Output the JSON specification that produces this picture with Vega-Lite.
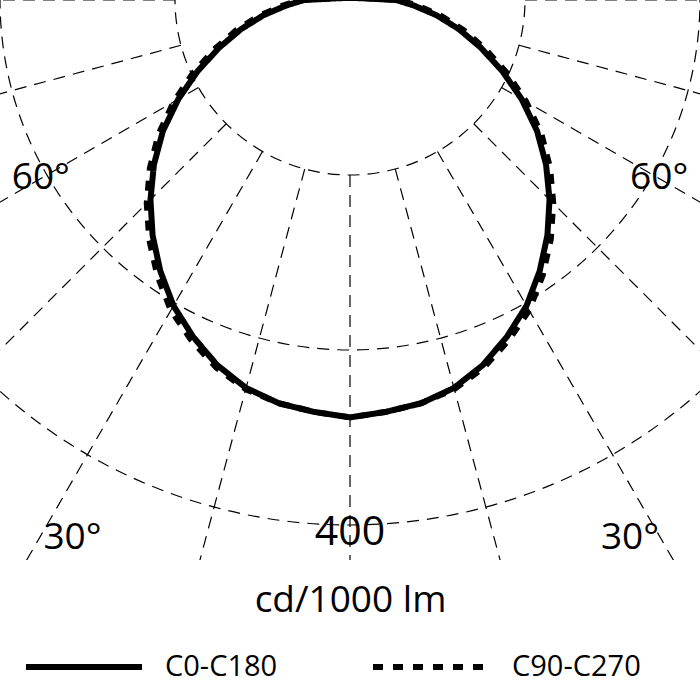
{
  "$schema": "https://vega.github.io/schema/vega-lite/v6.json",
  "width": 700,
  "height": 560,
  "padding": {"left": 0, "top": 0, "right": 0, "bottom": 140},
  "autosize": {"type": "none"},
  "background": "white",
  "config": {"view": {"stroke": null}, "font": "Open Sans"},
  "datasets": {
    "rings": [{"ring": 133.333}, {"ring": 266.667}, {"ring": 400}],
    "radials": [
      {"angle": -90}, {"angle": -75}, {"angle": -60}, {"angle": -45}, {"angle": -30}, {"angle": -15},
      {"angle": 0}, {"angle": 15}, {"angle": 30}, {"angle": 45}, {"angle": 60}, {"angle": 75}, {"angle": 90}
    ],
    "curves": [
      {"plane": "C0-C180", "gamma": -180, "cd": 1.5},
      {"plane": "C0-C180", "gamma": -120, "cd": 3},
      {"plane": "C0-C180", "gamma": -100, "cd": 8},
      {"plane": "C0-C180", "gamma": -90, "cd": 35},
      {"plane": "C0-C180", "gamma": -85, "cd": 49},
      {"plane": "C0-C180", "gamma": -80, "cd": 67},
      {"plane": "C0-C180", "gamma": -75, "cd": 86},
      {"plane": "C0-C180", "gamma": -70, "cd": 106},
      {"plane": "C0-C180", "gamma": -65, "cd": 128},
      {"plane": "C0-C180", "gamma": -60, "cd": 151},
      {"plane": "C0-C180", "gamma": -55, "cd": 174},
      {"plane": "C0-C180", "gamma": -50, "cd": 195},
      {"plane": "C0-C180", "gamma": -45, "cd": 215},
      {"plane": "C0-C180", "gamma": -40, "cd": 234},
      {"plane": "C0-C180", "gamma": -35, "cd": 252},
      {"plane": "C0-C180", "gamma": -30, "cd": 269},
      {"plane": "C0-C180", "gamma": -25, "cd": 283},
      {"plane": "C0-C180", "gamma": -20, "cd": 296},
      {"plane": "C0-C180", "gamma": -15, "cd": 306},
      {"plane": "C0-C180", "gamma": -10, "cd": 312},
      {"plane": "C0-C180", "gamma": -5, "cd": 315},
      {"plane": "C0-C180", "gamma": 0, "cd": 318},
      {"plane": "C0-C180", "gamma": 5, "cd": 315},
      {"plane": "C0-C180", "gamma": 10, "cd": 312},
      {"plane": "C0-C180", "gamma": 15, "cd": 306},
      {"plane": "C0-C180", "gamma": 20, "cd": 296},
      {"plane": "C0-C180", "gamma": 25, "cd": 283},
      {"plane": "C0-C180", "gamma": 30, "cd": 269},
      {"plane": "C0-C180", "gamma": 35, "cd": 252},
      {"plane": "C0-C180", "gamma": 40, "cd": 234},
      {"plane": "C0-C180", "gamma": 45, "cd": 215},
      {"plane": "C0-C180", "gamma": 50, "cd": 195},
      {"plane": "C0-C180", "gamma": 55, "cd": 174},
      {"plane": "C0-C180", "gamma": 60, "cd": 151},
      {"plane": "C0-C180", "gamma": 65, "cd": 128},
      {"plane": "C0-C180", "gamma": 70, "cd": 106},
      {"plane": "C0-C180", "gamma": 75, "cd": 86},
      {"plane": "C0-C180", "gamma": 80, "cd": 67},
      {"plane": "C0-C180", "gamma": 85, "cd": 49},
      {"plane": "C0-C180", "gamma": 90, "cd": 35},
      {"plane": "C0-C180", "gamma": 100, "cd": 8},
      {"plane": "C0-C180", "gamma": 120, "cd": 3},
      {"plane": "C0-C180", "gamma": 180, "cd": 1.5},
      {"plane": "C90-C270", "gamma": -180, "cd": 1.5},
      {"plane": "C90-C270", "gamma": -120, "cd": 4},
      {"plane": "C90-C270", "gamma": -100, "cd": 9},
      {"plane": "C90-C270", "gamma": -90, "cd": 38},
      {"plane": "C90-C270", "gamma": -85, "cd": 52},
      {"plane": "C90-C270", "gamma": -80, "cd": 71},
      {"plane": "C90-C270", "gamma": -75, "cd": 90},
      {"plane": "C90-C270", "gamma": -70, "cd": 110},
      {"plane": "C90-C270", "gamma": -65, "cd": 132},
      {"plane": "C90-C270", "gamma": -60, "cd": 155},
      {"plane": "C90-C270", "gamma": -55, "cd": 178},
      {"plane": "C90-C270", "gamma": -50, "cd": 199},
      {"plane": "C90-C270", "gamma": -45, "cd": 219},
      {"plane": "C90-C270", "gamma": -40, "cd": 238},
      {"plane": "C90-C270", "gamma": -35, "cd": 256},
      {"plane": "C90-C270", "gamma": -30, "cd": 273},
      {"plane": "C90-C270", "gamma": -25, "cd": 286},
      {"plane": "C90-C270", "gamma": -20, "cd": 298},
      {"plane": "C90-C270", "gamma": -15, "cd": 307},
      {"plane": "C90-C270", "gamma": -10, "cd": 312},
      {"plane": "C90-C270", "gamma": -5, "cd": 315},
      {"plane": "C90-C270", "gamma": 0, "cd": 318},
      {"plane": "C90-C270", "gamma": 5, "cd": 315},
      {"plane": "C90-C270", "gamma": 10, "cd": 312},
      {"plane": "C90-C270", "gamma": 15, "cd": 307},
      {"plane": "C90-C270", "gamma": 20, "cd": 298},
      {"plane": "C90-C270", "gamma": 25, "cd": 286},
      {"plane": "C90-C270", "gamma": 30, "cd": 273},
      {"plane": "C90-C270", "gamma": 35, "cd": 256},
      {"plane": "C90-C270", "gamma": 40, "cd": 238},
      {"plane": "C90-C270", "gamma": 45, "cd": 219},
      {"plane": "C90-C270", "gamma": 50, "cd": 199},
      {"plane": "C90-C270", "gamma": 55, "cd": 178},
      {"plane": "C90-C270", "gamma": 60, "cd": 155},
      {"plane": "C90-C270", "gamma": 65, "cd": 132},
      {"plane": "C90-C270", "gamma": 70, "cd": 110},
      {"plane": "C90-C270", "gamma": 75, "cd": 90},
      {"plane": "C90-C270", "gamma": 80, "cd": 71},
      {"plane": "C90-C270", "gamma": 85, "cd": 52},
      {"plane": "C90-C270", "gamma": 90, "cd": 38},
      {"plane": "C90-C270", "gamma": 100, "cd": 9},
      {"plane": "C90-C270", "gamma": 120, "cd": 4},
      {"plane": "C90-C270", "gamma": 180, "cd": 1.5}
    ],
    "angleLabels": [
      {"label": "60°", "angle": -60, "r": 272},
      {"label": "60°", "angle": 60, "r": 272},
      {"label": "30°", "angle": -27.3, "r": 461},
      {"label": "30°", "angle": 27.5, "r": 462}
    ],
    "ringLabels": [{"label": "400", "angle": 0, "r": 406}]
  },
  "layer": [
    {
      "data": {"name": "rings"},
      "mark": {"type": "arc", "filled": false, "color": "#000", "strokeWidth": 1.2, "strokeDash": [12, 8], "theta": 0, "theta2": 6.2832, "clip": true},
      "encoding": {
        "x": {"datum": 0, "type": "quantitative",
              "scale": {"domain": [-266.667, 266.667], "nice": false, "zero": false},
              "axis": {"title": "cd/1000 lm", "domain": false, "ticks": false, "labels": false, "grid": false,
                       "titleFont": "Open Sans", "titleFontSize": 37, "titleFontWeight": "normal", "titleColor": "#000",
                       "titlePadding": 51, "titleBaseline": "alphabetic"}},
        "y": {"datum": 0, "type": "quantitative",
              "scale": {"domain": [0, 426.667], "reverse": true, "nice": false, "zero": false}, "axis": null},
        "radius": {"field": "ring", "type": "quantitative", "stack": null,
                   "scale": {"type": "linear", "domain": [0, 400], "range": [0, 525], "zero": true}}
      }
    },
    {
      "data": {"name": "radials"},
      "transform": [
        {"calculate": "133.333*sin(datum.angle*PI/180)", "as": "x0"},
        {"calculate": "133.333*cos(datum.angle*PI/180)", "as": "y0"},
        {"calculate": "1000*sin(datum.angle*PI/180)", "as": "x1"},
        {"calculate": "1000*cos(datum.angle*PI/180)", "as": "y1"}
      ],
      "mark": {"type": "rule", "color": "#000", "strokeWidth": 1.2, "strokeDash": [12, 8], "clip": true},
      "encoding": {
        "x": {"field": "x0", "type": "quantitative", "title": "cd/1000 lm"},
        "y": {"field": "y0", "type": "quantitative", "axis": null},
        "x2": {"field": "x1"},
        "y2": {"field": "y1"}
      }
    },
    {
      "data": {"name": "curves"},
      "transform": [
        {"calculate": "datum.cd*sin(datum.gamma*PI/180)", "as": "px"},
        {"calculate": "datum.cd*cos(datum.gamma*PI/180)", "as": "py"}
      ],
      "mark": {"type": "line", "color": "#000", "strokeWidth": 6, "strokeJoin": "round", "clip": true},
      "encoding": {
        "x": {"field": "px", "type": "quantitative", "title": "cd/1000 lm"},
        "y": {"field": "py", "type": "quantitative", "axis": null},
        "order": {"field": "gamma", "type": "quantitative"},
        "strokeDash": {
          "field": "plane", "type": "nominal",
          "scale": {"domain": ["C0-C180", "C90-C270"], "range": [[1, 0], [10, 10]]},
          "legend": {"title": null, "orient": "none", "legendX": 23, "legendY": 606, "direction": "horizontal",
                     "columns": 2, "columnPadding": 83, "symbolType": "stroke", "symbolSize": 13456,
                     "symbolStrokeWidth": 6, "symbolStrokeColor": "#000", "labelFont": "Open Sans",
                     "labelFontSize": 29, "labelColor": "#000", "labelOffset": 20, "labelLimit": 500, "padding": 0}
        }
      }
    },
    {
      "data": {"name": "angleLabels"},
      "transform": [
        {"calculate": "datum.r*sin(datum.angle*PI/180)", "as": "lx"},
        {"calculate": "datum.r*cos(datum.angle*PI/180)", "as": "ly"}
      ],
      "mark": {"type": "text", "font": "Open Sans", "fontSize": 37, "color": "#000", "align": "center", "baseline": "middle"},
      "encoding": {
        "x": {"field": "lx", "type": "quantitative", "title": "cd/1000 lm"},
        "y": {"field": "ly", "type": "quantitative", "axis": null},
        "text": {"field": "label"}
      }
    },
    {
      "data": {"name": "ringLabels"},
      "transform": [
        {"calculate": "datum.r*sin(datum.angle*PI/180)", "as": "lx"},
        {"calculate": "datum.r*cos(datum.angle*PI/180)", "as": "ly"}
      ],
      "mark": {"type": "text", "font": "Open Sans", "fontSize": 41, "color": "#000", "align": "center", "baseline": "middle"},
      "encoding": {
        "x": {"field": "lx", "type": "quantitative", "title": "cd/1000 lm"},
        "y": {"field": "ly", "type": "quantitative", "axis": null},
        "text": {"field": "label"}
      }
    }
  ]
}
